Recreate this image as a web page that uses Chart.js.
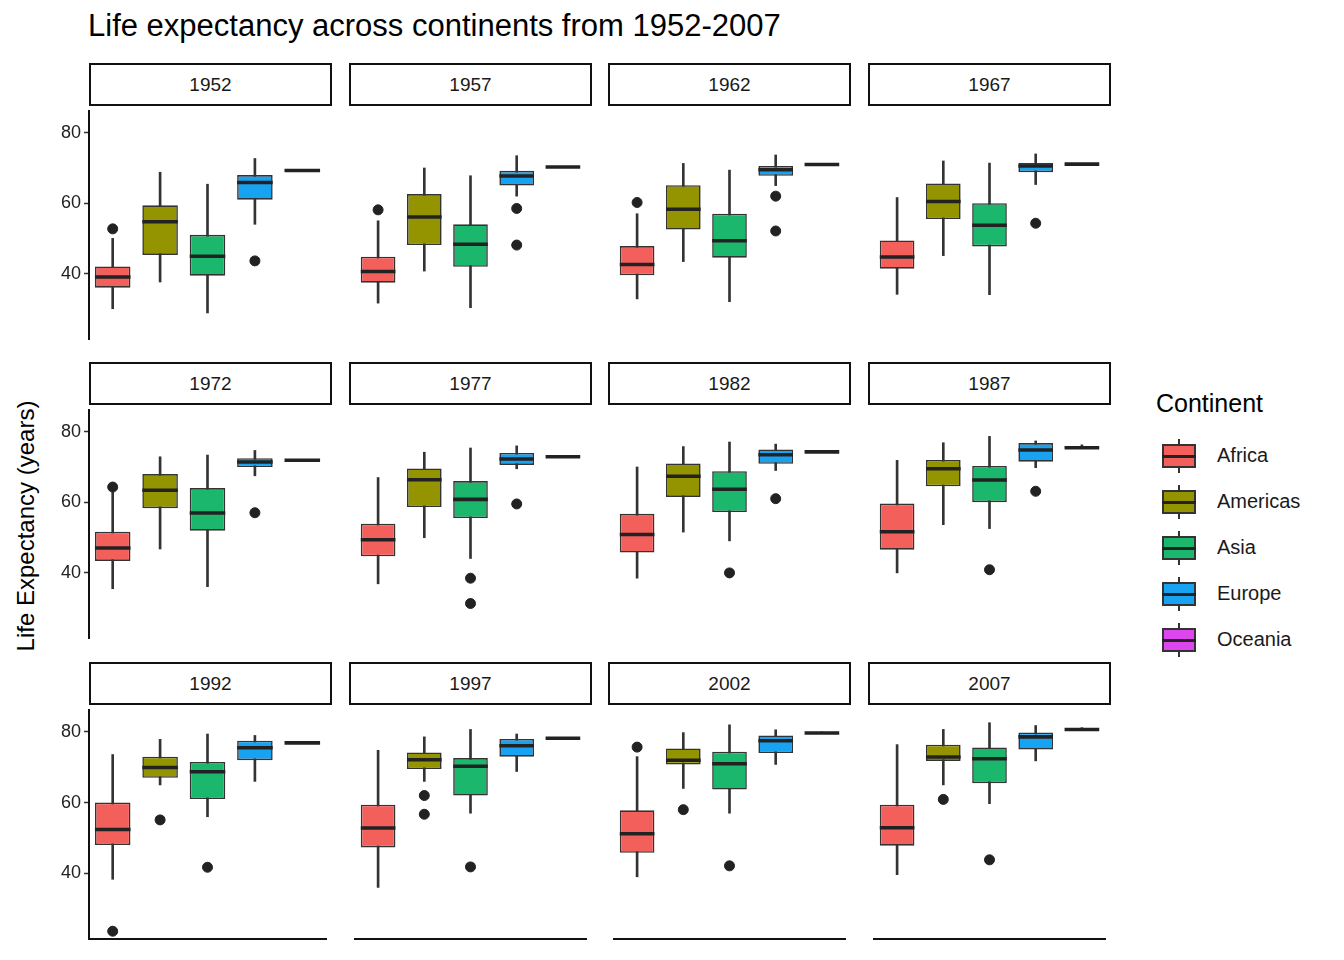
<!DOCTYPE html>
<html><head><meta charset="utf-8">
<script src="https://cdn.jsdelivr.net/npm/chart.js@4/dist/chart.umd.min.js"></script>
<style>
body{margin:0;width:1344px;height:960px;background:#fff;font-family:"Liberation Sans",Arial,sans-serif;position:relative;overflow:hidden}
.abs{position:absolute}
.strip{position:absolute;box-sizing:border-box;border:2px solid #111;background:#fff;font-size:19px;color:#1a1a1a;text-align:center;line-height:39px}
.key{position:absolute;width:36px;height:34px}
.key .wh{position:absolute;left:17px;width:2px;top:0;height:34px;background:#333}
.key .bx{position:absolute;left:1px;top:5px;width:34px;height:24px;box-sizing:border-box;border:2px solid #333}
.key .md{position:absolute;left:1px;top:15.5px;width:34px;height:3px;background:#222}
.lt{position:absolute;font-size:20px;color:#1a1a1a}
</style></head><body>
<div class="abs" style="left:88px;top:8px;font-size:31px;color:#000;white-space:nowrap">Life expectancy across continents from 1952-2007</div>
<div class="abs" style="left:26px;top:526px;transform:translate(-50%,-50%) rotate(-90deg);font-size:24px;white-space:nowrap;color:#000">Life Expectancy (years)</div>
<div class="abs" style="left:1156px;top:389px;font-size:25px;color:#000">Continent</div>
<div id="legend"></div>
<div id="panels"></div>
<script>
const years=[1952,1957,1962,1967,1972,1977,1982,1987,1992,1997,2002,2007];
const continents=['Africa','Americas','Asia','Europe','Oceania'];
const colors=['#F35F5B','#939400','#1AB76C','#18A2F2','#DD45EF'];
const whiskerLow=[[30,37.6,28.8,54,69.1],[31.6,40.7,30.3,62,70.3],[32.8,43.4,32,65,71],[34.1,45.1,34,65.3,71.1],[35.4,46.7,36,67.5,71.9],[36.8,49.9,44,69.5,72.9],[38.4,51.5,49,69,74.3],[39.9,53.6,52.5,69.8,75.3],[38.3,65,56,66,76.9],[36,66,57,68.8,78.2],[39,64,57,70.8,79.7],[39.6,65,59.7,71.8,80.7]];
const q1=[[36,45.3,39.4,61,69.2],[37.4,48.1,41.9,65,70.3],[39.5,52.5,44.5,67.8,71],[41.4,55.5,47.7,68.8,71.1],[43.3,58.3,51.9,70,71.9],[44.6,58.6,55.5,70.6,72.9],[45.7,61.5,57.2,70.9,74.3],[46.5,64.5,60,71.5,75.3],[48,67,61,72,76.9],[47.3,69.5,62,73,78.2],[45.8,70.8,63.7,74,79.7],[47.8,71.8,65.5,75,80.7]];
const median=[[39,54.7,44.9,65.9,69.3],[40.6,56.1,48.3,67.7,70.3],[42.6,58.3,49.3,69.5,71],[44.7,60.5,53.7,70.6,71.1],[47,63.4,56.9,71.4,71.9],[49.3,66.4,60.8,72.3,72.9],[50.8,67.4,63.7,73.5,74.3],[51.6,69.5,66.3,74.8,75.5],[52.4,69.9,68.7,75.5,76.9],[52.8,72.1,70.3,76.1,78.2],[51.2,72,71,77.5,79.7],[52.9,72.9,72.4,78.6,80.7]];
const q3=[[42,59.4,51,68,69.4],[44.8,62.6,54,69.2,70.3],[47.8,65.1,57,70.6,71],[49.4,65.6,60,71.4,71.1],[51.6,68,64,72.5,71.9],[53.9,69.6,66,74,72.9],[56.7,71,68.8,75,74.3],[59.6,72,70.3,76.8,75.8],[60,73,71.5,77.5,76.9],[59.4,74.2,72.6,78,78.2],[57.8,75.3,74.4,79,79.7],[59.4,76.4,75.6,79.8,81]];
const whiskerHigh=[[50,68.8,65.4,72.7,69.4],[55,70,67.8,73.5,70.3],[57,71.3,69.4,73.7,71.2],[61.6,72,71.4,74,71.3],[63,72.9,73.4,74.7,72],[67,74.2,75.4,76,73],[70,75.8,77.1,76.5,74.4],[71.9,76.9,78.7,77.4,76.3],[73.6,77.9,79.4,79,77],[74.8,78.6,80.7,79.4,78.3],[73,79.8,82,80.6,80],[76.4,80.7,82.6,81.8,81.2]];
const outliers=[[['Africa',52.7],['Europe',43.6]],[['Africa',58.1],['Europe',58.5],['Europe',48.1]],[['Africa',60.2],['Europe',62],['Europe',52.1]],[['Europe',54.3]],[['Africa',64.3],['Europe',57]],[['Asia',38.4],['Asia',31.2],['Europe',59.5]],[['Asia',39.9],['Europe',61]],[['Asia',40.8],['Europe',63.1]],[['Africa',23.6],['Americas',55.1],['Asia',41.7]],[['Americas',62],['Americas',56.7],['Asia',41.8]],[['Africa',75.7],['Americas',58],['Asia',42.1]],[['Americas',60.9],['Asia',43.8]]];
const yTicks=[40,60,80];

const lg=document.getElementById('legend');
continents.forEach((c,i)=>{
  const y=439+i*46;
  lg.insertAdjacentHTML('beforeend',`<div class="key" style="left:1161px;top:${y}px"><div class="wh"></div><div class="bx" style="background:${colors[i]}"></div><div class="md"></div></div><div class="lt" style="left:1217px;top:${y+5}px">${c}</div>`);
});

const colX=[89,349,608,868], panelW=243;
const rowTop=[105,404,704], panelH=240;
const pan=document.getElementById('panels');
years.forEach((yr,k)=>{
  const col=k%4,row=Math.floor(k/4);
  pan.insertAdjacentHTML('beforeend',`<div class="strip" style="left:${colX[col]}px;top:${rowTop[row]-42}px;width:${panelW}px;height:43px">${yr}</div>`);
  const axW=col===0?50:0;
  const left=colX[col]-axW;
  const w=panelW+axW;
  const h=row===2?panelH+1:panelH;
  const cv=document.createElement('canvas');
  cv.width=w;cv.height=h;
  cv.style.cssText=`position:absolute;left:${left}px;top:${rowTop[row]}px;width:${w}px;height:${h}px`;
  pan.appendChild(cv);
  new Chart(cv,{
    type:'bar',
    data:{labels:continents,datasets:[
      {type:'scatter',data:outliers[k].map(o=>({x:o[0],y:o[1]})),backgroundColor:'#222',borderColor:'#222',pointRadius:5,clip:false,order:0},
      {data:median[k].map(m=>[m-0.5,m+0.5]),backgroundColor:'#222',borderWidth:0,grouped:false,categoryPercentage:0.75,barPercentage:1,order:1},
      {data:q1[k].map((v,i)=>[v,q3[k][i]]),backgroundColor:colors,borderColor:'#333',borderWidth:1.6,borderSkipped:false,grouped:false,categoryPercentage:0.75,barPercentage:1,order:2},
      {data:whiskerLow[k].map((v,i)=>[v,whiskerHigh[k][i]]),backgroundColor:'#333',borderWidth:0,grouped:false,barThickness:2,order:3}
    ]},
    options:{responsive:false,animation:false,devicePixelRatio:1,
      layout:{padding:0},
      plugins:{legend:{display:false},tooltip:{enabled:false}},
      scales:{
        x:{type:'category',offset:true,display:row===2,grid:{display:false,drawTicks:false},ticks:{display:false},border:{display:true,color:'#111',width:2},
          afterFit:s=>{s.height=row===2?1:0;s.paddingLeft=0;s.paddingRight=0;}},
        y:{min:21.4,max:86.2,display:col===0,
          afterBuildTicks:s=>{s.ticks=yTicks.map(v=>({value:v}));},
          afterFit:s=>{s.width=axW;s.paddingTop=0;s.paddingBottom=0;},
          grid:{drawOnChartArea:false,drawTicks:true,tickLength:5,color:'#333',tickWidth:1.5},
          border:{display:true,color:'#111',width:2},
          ticks:{color:'#222',font:{size:18,family:'Liberation Sans'},padding:3}}
      }}
  });
});
</script>
</body></html>
